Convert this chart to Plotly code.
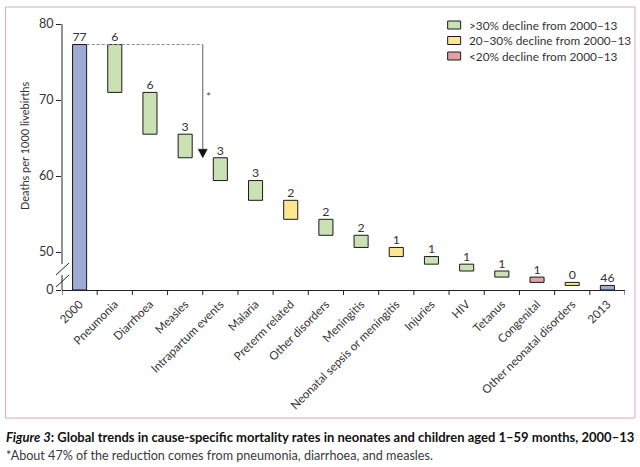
import plotly.graph_objects as go

# ---------------- data ----------------
categories = ["2000", "Pneumonia", "Diarrhoea", "Measles", "Intrapartum events",
              "Malaria", "Preterm related", "Other disorders", "Meningitis",
              "Neonatal sepsis or meningitis", "Injuries", "HIV", "Tetanus",
              "Congenital", "Other neonatal disorders", "2013"]
start_rate = 77.3          # deaths per 1000 livebirths, 2000
declines = [6.3, 5.5, 3.1, 3.0, 2.6, 2.5, 2.1, 1.6, 1.2, 1.0, 0.9, 0.8, 0.7, 0.4]
decline_class = ["gt30", "gt30", "gt30", "gt30", "gt30", "mid", "gt30", "gt30",
                 "mid", "gt30", "gt30", "gt30", "lt20", "mid"]
value_labels = ["77", "6", "6", "3", "3", "3", "2", "2", "2", "1", "1", "1", "1", "1", "0", "46"]
tick_values = [0, 50, 60, 70, 80]
legend_labels = [">30% decline from 2000\u201313", "20\u201330% decline from 2000\u201313",
                 "<20% decline from 2000\u201313"]

# ---------------- styles ----------------
BREAK = 45.0   # value hidden by the axis break (0 is drawn at 45)
COL = {"total": "#9dabd5", "gt30": "#c9e1b3", "mid": "#fce690", "lt20": "#e0a2a3"}
FONT = "Lato"
TXT = "#333333"

# ---------------- derived geometry ----------------
bases, heights, colors = [], [], []
level = start_rate
bases.append(0); heights.append(start_rate - BREAK); colors.append(COL["total"])
for d, c in zip(declines, decline_class):
    new = level - d
    bases.append(new - BREAK); heights.append(d); colors.append(COL[c])
    level = new
end_rate = level
bases.append(0); heights.append(end_rate - BREAK); colors.append(COL["total"])
tops = [b + h for b, h in zip(bases, heights)]

W, H = 640, 467
PL, PT, PR, PB = 62, 24, 625.5, 290   # plot area in window pixels
L, T = PL, PT
pw, ph = PR - PL, PB - PT
R, B = W - L - pw, H - T - ph
YMAX = 35.0
unit_px = ph / YMAX
cat_px = pw / len(categories)
def px(x):  # window pixel -> paper x
    return (x - PL) / pw
def py(y):  # window pixel -> paper y
    return (PB - y) / ph

fig = go.Figure()
xs = list(range(len(categories)))
fig.add_trace(go.Bar(x=xs, y=heights, base=bases, width=0.4,
                     marker=dict(color=colors, line=dict(color="#1a1a1a", width=1)),
                     hoverinfo="skip", showlegend=False))
fig.add_trace(go.Scatter(x=xs, y=tops, mode="text", text=value_labels,
                         textposition="top center",
                         textfont=dict(family=FONT, size=12.3, color=TXT),
                         showlegend=False, hoverinfo="skip", cliponaxis=False))

# arrow marking pneumonia+diarrhoea+measles
arrow_end = start_rate - sum(declines[:3]) - BREAK
ax = 3.5
fig.add_shape(type="line", x0=0.2, x1=ax, y0=start_rate - BREAK, y1=start_rate - BREAK,
              line=dict(color="#8a8a8a", width=1, dash="3px,2px"))
fig.add_shape(type="line", x0=ax, x1=ax, y0=start_rate - BREAK, y1=arrow_end + 7 / unit_px,
              line=dict(color="#7a7a7a", width=1.2))
hw = 4.5 / cat_px
hh = 8.5 / unit_px
fig.add_shape(type="path",
              path=f"M {ax - hw},{arrow_end + hh} L {ax + hw},{arrow_end + hh} L {ax},{arrow_end} Z",
              fillcolor="#111111", line=dict(color="#111111", width=0.5))
fig.add_annotation(x=ax, y=arrow_end + 8.0, text="*", showarrow=False, xshift=6,
                   font=dict(family=FONT, size=12, color="#555555"))

# y axis line with break
fig.add_shape(type="line", xref="paper", x0=0, x1=0, y0=YMAX, y1=(PB - 264) / unit_px,
              line=dict(color="#222", width=1))
fig.add_shape(type="line", xref="paper", x0=0, x1=0, y0=(PB - 275) / unit_px, y1=0,
              line=dict(color="#222", width=1))
for yb in (269, 281):
    fig.add_shape(type="line", xref="paper", yref="paper", x0=px(56), x1=px(69),
                  y0=py(yb + 6), y1=py(yb - 6), line=dict(color="#222", width=1))

# legend (manual)
for i, (lab, key) in enumerate(zip(legend_labels, ["gt30", "mid", "lt20"])):
    yc = 25 + i * 15.5
    fig.add_shape(type="rect", xref="paper", yref="paper", x0=px(448), x1=px(461),
                  y0=py(yc + 4), y1=py(yc - 4), fillcolor=COL[key],
                  line=dict(color="#1a1a1a", width=1))
    fig.add_annotation(xref="paper", yref="paper", x=px(467), y=py(yc), text=lab,
                       showarrow=False, xanchor="left", yanchor="middle",
                       font=dict(family=FONT, size=11.8, color=TXT))

# frame
fig.add_shape(type="rect", xref="paper", yref="paper", x0=px(5.5), x1=px(635.5),
              y0=py(418), y1=py(7), line=dict(color="#d6a6be", width=1), layer="below")

# y title
fig.add_annotation(xref="paper", yref="paper", x=px(24), y=py(146), text="Deaths per 1000 livebirths",
                   textangle=-90, showarrow=False, xanchor="center", yanchor="middle",
                   font=dict(family=FONT, size=11, color=TXT))

# caption
fig.add_annotation(xref="paper", yref="paper", x=px(4), y=py(437),
                   text="<i>Figure 3</i>: Global trends in cause-specific mortality rates in neonates and children aged 1\u201359 months, 2000\u201313",
                   showarrow=False, xanchor="left", yanchor="middle",
                   font=dict(family=FONT, size=13.0, color="#111111", weight=700))
fig.add_annotation(xref="paper", yref="paper", x=px(4), y=py(455),
                   text="*About 47% of the reduction comes from pneumonia, diarrhoea, and measles.",
                   showarrow=False, xanchor="left", yanchor="middle",
                   font=dict(family=FONT, size=12.6, color="#3a3a3a"))

fig.update_layout(
    width=W, height=H, margin=dict(l=L, r=R, t=T, b=B, autoexpand=False),
    paper_bgcolor="white", plot_bgcolor="white",
    xaxis=dict(range=[-0.5, len(categories) - 0.5], tickangle=-45,
               tickvals=xs, ticktext=categories,
               ticks="", showline=True, linecolor="#222", automargin=False,
               linewidth=1, showgrid=False, zeroline=False, ticklabelstandoff=2,
               tickfont=dict(family=FONT, size=11.6, color=TXT), fixedrange=True),
    yaxis=dict(range=[0, YMAX], tickvals=[v - BREAK if v else 0 for v in tick_values],
               ticktext=[str(v) for v in tick_values], ticks="outside", ticklen=5,
               tickcolor="#222", showline=False, showgrid=False, zeroline=False,
               automargin=False,
               tickfont=dict(family=FONT, size=12.5, color=TXT), fixedrange=True),
    font=dict(family=FONT),
)
# boundary ticks on the x axis
for k in range(len(categories) + 1):
    fig.add_shape(type="line", x0=k - 0.5, x1=k - 0.5, yref="paper", y0=0, y1=-5 / ph,
                  line=dict(color="#222", width=1))
fig.write_html("out.html", config={"displayModeBar": False},
               post_script="document.body.style.margin='0';")
